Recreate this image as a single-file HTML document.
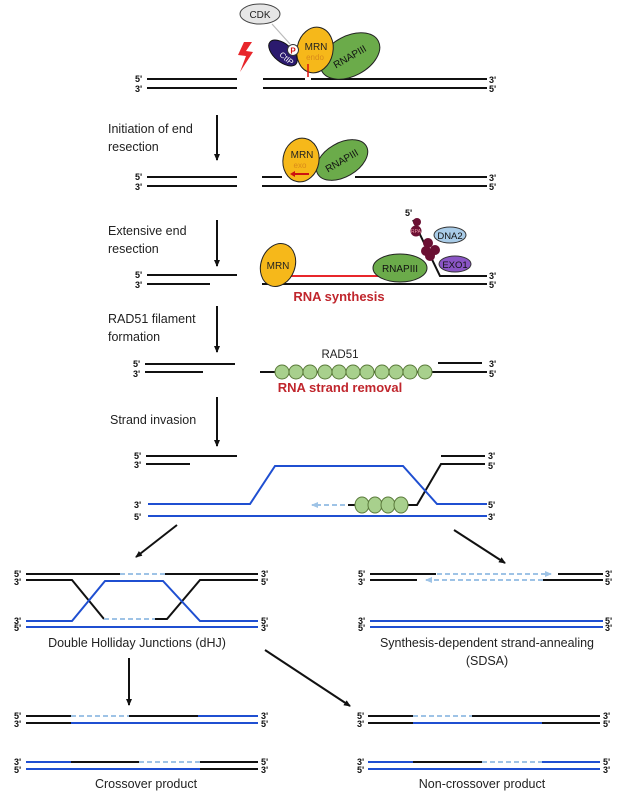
<!DOCTYPE html>
<html><head><meta charset="utf-8"><style>
body{margin:0;background:#fff}
svg{display:block}
text{font-family:"Liberation Sans",Arial,sans-serif}
.l{font-size:12.5px;fill:#222}
.p{font-size:9px;font-weight:bold;fill:#111}
</style></head><body>
<svg width="624" height="800" viewBox="0 0 624 800" xmlns="http://www.w3.org/2000/svg">
<defs>
<marker id="a" markerWidth="8" markerHeight="8" refX="6" refY="4" orient="auto" markerUnits="userSpaceOnUse"><path d="M0,1 L7,4 L0,7 Z" fill="#111"/></marker>
<marker id="b" markerWidth="8" markerHeight="8" refX="6" refY="4" orient="auto" markerUnits="userSpaceOnUse"><path d="M0,1 L7,4 L0,7 Z" fill="#9ec3e6"/></marker>
</defs>
<g stroke="#111" stroke-width="2" fill="none">
<line x1="147" y1="79" x2="237" y2="79"/><line x1="147" y1="88" x2="237" y2="88"/>
<line x1="263" y1="79" x2="305" y2="79"/><line x1="311" y1="79" x2="487" y2="79"/><line x1="263" y1="88" x2="487" y2="88"/>
<line x1="147" y1="177" x2="237" y2="177"/><line x1="147" y1="186" x2="237" y2="186"/>
<line x1="262" y1="177" x2="282" y2="177"/><line x1="355" y1="177" x2="487" y2="177"/><line x1="262" y1="186" x2="487" y2="186"/>
<line x1="147" y1="275" x2="237" y2="275"/><line x1="147" y1="284" x2="210" y2="284"/>
<line x1="262" y1="284" x2="487" y2="284"/>
<polyline points="413,220 440,276 487,276"/>
<line x1="145" y1="364" x2="235" y2="364"/><line x1="145" y1="372" x2="203" y2="372"/>
<line x1="260" y1="372" x2="487" y2="372"/><line x1="438" y1="363" x2="482" y2="363"/>
<line x1="217" y1="115" x2="217" y2="160" marker-end="url(#a)"/>
<line x1="217" y1="220" x2="217" y2="266" marker-end="url(#a)"/>
<line x1="217" y1="306" x2="217" y2="352" marker-end="url(#a)"/>
<line x1="217" y1="397" x2="217" y2="446" marker-end="url(#a)"/>
<line x1="177" y1="525" x2="136" y2="557" marker-end="url(#a)"/>
<line x1="454" y1="530" x2="505" y2="563" marker-end="url(#a)"/>
<line x1="129" y1="658" x2="129" y2="705" marker-end="url(#a)"/>
<line x1="265" y1="650" x2="350" y2="706" marker-end="url(#a)"/>
<line x1="146" y1="456" x2="237" y2="456"/><line x1="146" y1="464" x2="190" y2="464"/>
<line x1="441" y1="456" x2="485" y2="456"/>
<polyline points="485,464 441,464 417,505 348,505"/>
</g>
<g stroke="#1f4fd1" stroke-width="2" fill="none">
<polyline points="148,504 250,504 275,466 403,466 437,504 487,504"/>
<line x1="148" y1="516" x2="487" y2="516"/>
</g>
<line x1="345" y1="505" x2="312" y2="505" stroke="#9ec3e6" stroke-width="2" stroke-dasharray="5,3" marker-end="url(#b)"/>
<g fill="#a8d08d" stroke="#5a7a3a" stroke-width="1">
<ellipse cx="362" cy="505" rx="7" ry="8"/><ellipse cx="375" cy="505" rx="7" ry="8"/><ellipse cx="388" cy="505" rx="7" ry="8"/><ellipse cx="401" cy="505" rx="7" ry="8"/>
<circle cx="282" cy="372" r="7"/><circle cx="296" cy="372" r="7"/><circle cx="310" cy="372" r="7"/><circle cx="325" cy="372" r="7"/><circle cx="339" cy="372" r="7"/><circle cx="353" cy="372" r="7"/><circle cx="367" cy="372" r="7"/><circle cx="382" cy="372" r="7"/><circle cx="396" cy="372" r="7"/><circle cx="410" cy="372" r="7"/><circle cx="425" cy="372" r="7"/>
</g>
<!-- row1 proteins -->
<ellipse cx="260" cy="14" rx="20" ry="10" fill="#e6e6e6" stroke="#444"/>
<text x="260" y="18" font-size="10" text-anchor="middle" fill="#222">CDK</text>
<line x1="272" y1="24" x2="290" y2="44" stroke="#bbb" stroke-width="1.2"/>
<path d="M244,42 L238,55 L246,56 L240,72 L253,52 L246,51 L252,42 Z" fill="#e8262b"/>
<ellipse cx="283" cy="53" rx="17" ry="9" transform="rotate(40 283 53)" fill="#2b1a6e" stroke="#111"/>
<text x="279" y="57" font-size="8" fill="#fff" transform="rotate(40 281 56)">CtIP</text>
<ellipse cx="350" cy="56" rx="32" ry="20" transform="rotate(-28 350 56)" fill="#6bab4a" stroke="#222"/>
<text x="350" y="60" font-size="10" fill="#111" text-anchor="middle" transform="rotate(-30 350 57)">RNAPIII</text>
<ellipse cx="315" cy="50" rx="18" ry="23" transform="rotate(12 315 50)" fill="#f6b81a" stroke="#222"/>
<text x="316" y="50" font-size="10" text-anchor="middle" fill="#222">MRN</text>
<text x="315" y="60" font-size="8" text-anchor="middle" fill="#d98a1a">endo</text>
<line x1="308" y1="64" x2="308" y2="77" stroke="#d11" stroke-width="1.5"/>
<circle cx="293" cy="50" r="5.5" fill="#fff" stroke="#333"/>
<text x="293" y="53.5" font-size="8" font-weight="bold" text-anchor="middle" fill="#c11">P</text>
<!-- row2 proteins -->
<ellipse cx="342" cy="160" rx="28" ry="17" transform="rotate(-30 342 160)" fill="#6bab4a" stroke="#222"/>
<text x="342" y="164" font-size="10" text-anchor="middle" fill="#111" transform="rotate(-30 342 161)">RNAPIII</text>
<ellipse cx="301" cy="160" rx="18" ry="22" transform="rotate(10 301 160)" fill="#f6b81a" stroke="#222"/>
<text x="302" y="158" font-size="10" text-anchor="middle" fill="#222">MRN</text>
<text x="300" y="168" font-size="8" text-anchor="middle" fill="#d98a1a">exo</text>
<line x1="309" y1="174" x2="292" y2="174" stroke="#c11" stroke-width="2"/>
<path d="M290,174 L295,171 L295,177 Z" fill="#c11"/>
<!-- row3 proteins -->
<line x1="285" y1="276" x2="385" y2="276" stroke="#e8262b" stroke-width="2"/>
<ellipse cx="278" cy="265" rx="17" ry="22" transform="rotate(20 278 265)" fill="#f6b81a" stroke="#222"/>
<text x="278" y="269" font-size="10" text-anchor="middle" fill="#222">MRN</text>
<ellipse cx="400" cy="268" rx="27" ry="14" fill="#6bab4a" stroke="#222"/>
<text x="400" y="272" font-size="10" text-anchor="middle" fill="#111">RNAPIII</text>
<ellipse cx="450" cy="235" rx="16" ry="8" fill="#a9cce8" stroke="#333"/>
<text x="450" y="239" font-size="9.5" text-anchor="middle" fill="#111">DNA2</text>
<ellipse cx="455" cy="264" rx="16" ry="8" fill="#8a55c5" stroke="#333"/>
<text x="455" y="268" font-size="9.5" text-anchor="middle" fill="#111">EXO1</text>
<g fill="#6b1033">
<circle cx="417" cy="222" r="4"/><circle cx="416" cy="231" r="5.5"/><circle cx="428" cy="243" r="5"/><circle cx="426" cy="251" r="5"/><circle cx="435" cy="250" r="5"/><circle cx="430" cy="256" r="5"/>
</g>
<text x="416" y="233" font-size="5" fill="#e9a" text-anchor="middle">RPA</text>
<text x="405" y="216" class="p" font-size="10">5'</text>
<text x="339" y="301" font-size="13" font-weight="bold" fill="#c0262d" text-anchor="middle">RNA synthesis</text>
<text x="340" y="358" font-size="11.5" fill="#222" text-anchor="middle">RAD51</text>
<text x="340" y="392" font-size="13" font-weight="bold" fill="#c0262d" text-anchor="middle">RNA strand removal</text>
<text class="l" x="108" y="133">Initiation of end</text><text class="l" x="108" y="151">resection</text>
<text class="l" x="108" y="235">Extensive end</text><text class="l" x="108" y="253">resection</text>
<text class="l" x="108" y="323">RAD51 filament</text><text class="l" x="108" y="341">formation</text>
<text class="l" x="110" y="424">Strand invasion</text>
<g class="p">
<text x="135" y="82">5'</text><text x="135" y="92">3'</text><text x="489" y="83">3'</text><text x="489" y="92">5'</text>
<text x="135" y="180">5'</text><text x="135" y="190">3'</text><text x="489" y="181">3'</text><text x="489" y="190">5'</text>
<text x="135" y="278">5'</text><text x="135" y="288">3'</text><text x="489" y="279">3'</text><text x="489" y="288">5'</text>
<text x="133" y="367">5'</text><text x="133" y="377">3'</text><text x="489" y="367">3'</text><text x="489" y="377">5'</text>
<text x="134" y="459">5'</text><text x="134" y="468">3'</text><text x="488" y="459">3'</text><text x="488" y="469">5'</text>
<text x="134" y="508">3'</text><text x="134" y="520">5'</text><text x="488" y="508">5'</text><text x="488" y="520">3'</text>
</g>
<g stroke-width="2" fill="none">
<line x1="26" y1="574" x2="120" y2="574" stroke="#111"/><line x1="165" y1="574" x2="258" y2="574" stroke="#111"/>
<line x1="120" y1="574" x2="165" y2="574" stroke="#9ec3e6" stroke-dasharray="5,3"/>
<polyline points="26,580 72,580 104,619" stroke="#111"/>
<line x1="104" y1="619" x2="155" y2="619" stroke="#9ec3e6" stroke-dasharray="5,3"/>
<polyline points="155,619 167,619 200,580 258,580" stroke="#111"/>
<polyline points="26,621 72,621 105,581 163,581 200,621 258,621" stroke="#1f4fd1"/>
<line x1="26" y1="627" x2="258" y2="627" stroke="#1f4fd1"/>
<line x1="370" y1="574" x2="436" y2="574" stroke="#111"/><line x1="558" y1="574" x2="603" y2="574" stroke="#111"/>
<line x1="437" y1="574" x2="551" y2="574" stroke="#9ec3e6" stroke-dasharray="5,3" marker-end="url(#b)"/>
<line x1="370" y1="580" x2="417" y2="580" stroke="#111"/><line x1="543" y1="580" x2="603" y2="580" stroke="#111"/>
<line x1="543" y1="580" x2="426" y2="580" stroke="#9ec3e6" stroke-dasharray="5,3" marker-end="url(#b)"/>
<line x1="370" y1="621" x2="603" y2="621" stroke="#1f4fd1"/><line x1="370" y1="627" x2="603" y2="627" stroke="#1f4fd1"/>
<line x1="26" y1="716" x2="71" y2="716" stroke="#111"/><line x1="71" y1="716" x2="129" y2="716" stroke="#9ec3e6" stroke-dasharray="5,3"/><line x1="129" y1="716" x2="198" y2="716" stroke="#111"/><line x1="198" y1="716" x2="258" y2="716" stroke="#1f4fd1"/>
<line x1="26" y1="723" x2="71" y2="723" stroke="#111"/><line x1="71" y1="723" x2="258" y2="723" stroke="#1f4fd1"/>
<line x1="26" y1="762" x2="71" y2="762" stroke="#1f4fd1"/><line x1="71" y1="762" x2="139" y2="762" stroke="#111"/><line x1="139" y1="762" x2="200" y2="762" stroke="#9ec3e6" stroke-dasharray="5,3"/><line x1="200" y1="762" x2="258" y2="762" stroke="#111"/>
<line x1="26" y1="769" x2="200" y2="769" stroke="#1f4fd1"/><line x1="200" y1="769" x2="258" y2="769" stroke="#111"/>
<line x1="368" y1="716" x2="413" y2="716" stroke="#111"/><line x1="413" y1="716" x2="472" y2="716" stroke="#9ec3e6" stroke-dasharray="5,3"/><line x1="472" y1="716" x2="600" y2="716" stroke="#111"/>
<line x1="368" y1="723" x2="413" y2="723" stroke="#111"/><line x1="413" y1="723" x2="542" y2="723" stroke="#1f4fd1"/><line x1="542" y1="723" x2="600" y2="723" stroke="#111"/>
<line x1="368" y1="762" x2="413" y2="762" stroke="#1f4fd1"/><line x1="413" y1="762" x2="482" y2="762" stroke="#111"/><line x1="482" y1="762" x2="542" y2="762" stroke="#9ec3e6" stroke-dasharray="5,3"/><line x1="542" y1="762" x2="600" y2="762" stroke="#1f4fd1"/>
<line x1="368" y1="769" x2="600" y2="769" stroke="#1f4fd1"/>
</g>
<g class="p">
<text x="14" y="577">5'</text><text x="14" y="585">3'</text><text x="261" y="577">3'</text><text x="261" y="585">5'</text>
<text x="14" y="624">3'</text><text x="14" y="631">5'</text><text x="261" y="624">5'</text><text x="261" y="631">3'</text>
<text x="358" y="577">5'</text><text x="358" y="585">3'</text><text x="605" y="577">3'</text><text x="605" y="585">5'</text>
<text x="358" y="624">3'</text><text x="358" y="631">5'</text><text x="605" y="624">5'</text><text x="605" y="631">3'</text>
<text x="14" y="719">5'</text><text x="14" y="727">3'</text><text x="261" y="719">3'</text><text x="261" y="727">5'</text>
<text x="14" y="765">3'</text><text x="14" y="773">5'</text><text x="261" y="765">5'</text><text x="261" y="773">3'</text>
<text x="357" y="719">5'</text><text x="357" y="727">3'</text><text x="603" y="719">3'</text><text x="603" y="727">5'</text>
<text x="357" y="765">3'</text><text x="357" y="773">5'</text><text x="603" y="765">5'</text><text x="603" y="773">3'</text>
</g>
<text class="l" x="137" y="647" text-anchor="middle">Double Holliday Junctions (dHJ)</text>
<text class="l" x="487" y="647" text-anchor="middle">Synthesis-dependent strand-annealing</text>
<text class="l" x="487" y="665" text-anchor="middle">(SDSA)</text>
<text class="l" x="146" y="788" text-anchor="middle">Crossover product</text>
<text class="l" x="482" y="788" text-anchor="middle">Non-crossover product</text>
</svg>
</body></html>
